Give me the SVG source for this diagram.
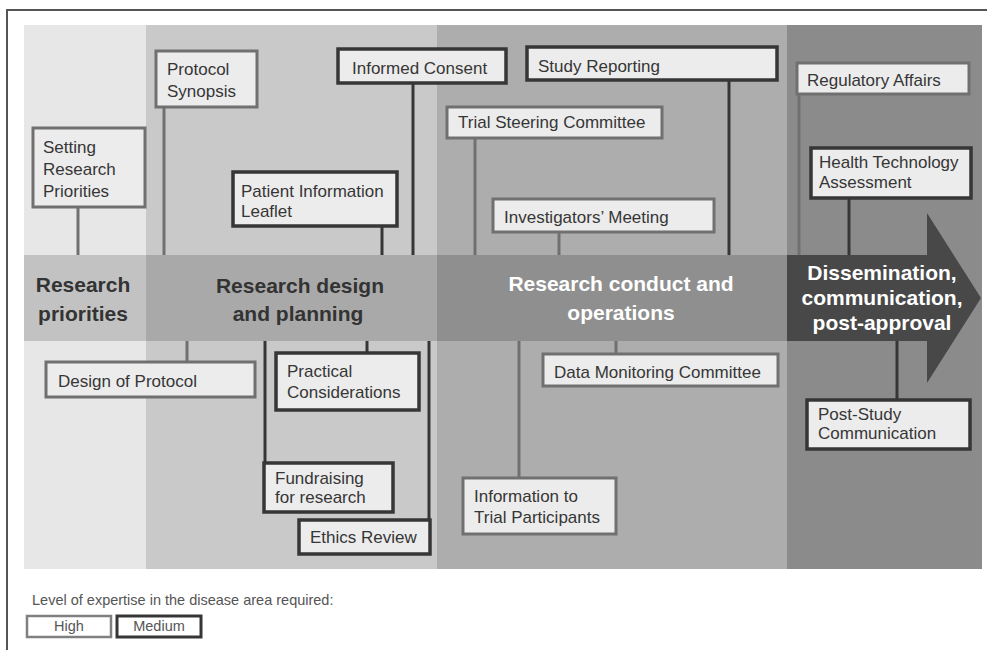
<svg xmlns="http://www.w3.org/2000/svg" width="987" height="650" viewBox="0 0 987 650">
<style>
.t{font-family:"Liberation Sans",Arial,sans-serif;font-size:17px;fill:#363636}
.b{font-family:"Liberation Sans",Arial,sans-serif;font-size:21px;font-weight:bold;text-anchor:middle}
.hi{fill:#ececec;stroke:#707070;stroke-width:3}
.md{fill:#ececec;stroke:#363636;stroke-width:3.5}
.lh{stroke:#707070;stroke-width:3;fill:none}
.lm{stroke:#363636;stroke-width:3;fill:none}
.lg{font-family:"Liberation Sans",Arial,sans-serif;font-size:14.5px;fill:#555}
</style>
<rect x="0" y="0" width="987" height="650" fill="#fff"/>
<path d="M7 650V10H987" fill="none" stroke="#555" stroke-width="2"/>
<g id="backgrounds">
<rect x="24" y="25" width="122" height="544" fill="#e7e7e7"/>
<rect x="146" y="25" width="291" height="544" fill="#c9c9c9"/>
<rect x="437" y="25" width="350" height="544" fill="#adadad"/>
<rect x="787" y="25" width="195" height="544" fill="#8b8b8b"/>
</g>
<g id="connectors">
<line class="lh" x1="78" y1="207" x2="78" y2="255"/>
<line class="lh" x1="164" y1="107" x2="164" y2="255"/>
<line class="lm" x1="382" y1="226" x2="382" y2="255"/>
<line class="lm" x1="413" y1="83" x2="413" y2="255"/>
<line class="lm" x1="729" y1="80" x2="729" y2="255"/>
<line class="lh" x1="475" y1="138" x2="475" y2="255"/>
<line class="lh" x1="559" y1="232" x2="559" y2="255"/>
<line class="lh" x1="799" y1="94" x2="799" y2="255"/>
<line class="lm" x1="849" y1="198" x2="849" y2="255"/>
<line class="lh" x1="187" y1="341" x2="187" y2="362"/>
<line class="lm" x1="367" y1="341" x2="367" y2="353"/>
<line class="lm" x1="265" y1="341" x2="265" y2="463"/>
<line class="lm" x1="429" y1="341" x2="429" y2="520"/>
<line class="lh" x1="519" y1="341" x2="519" y2="478"/>
<line class="lh" x1="616" y1="341" x2="616" y2="354"/>
<line class="lm" x1="897" y1="341" x2="897" y2="400"/>
</g>
<g id="band">
<rect x="24" y="255" width="122" height="86" fill="#c2c2c2"/>
<rect x="146" y="255" width="291" height="86" fill="#a9a9a9"/>
<rect x="437" y="255" width="350" height="86" fill="#8f8f8f"/>
<polygon points="787,255 927,255 927,213 981,298 927,383 927,341 787,341" fill="#484848"/>
</g>
<g id="phase-priorities"><text class="b" fill="#333"><tspan x="83" y="292">Research</tspan><tspan x="83" y="321">priorities</tspan></text></g>
<g id="phase-design"><text class="b" fill="#333"><tspan x="300" y="293">Research design</tspan><tspan x="298" y="321">and planning</tspan></text></g>
<g id="phase-conduct"><text class="b" fill="#fff"><tspan x="621" y="291">Research conduct and</tspan><tspan x="621" y="320">operations</tspan></text></g>
<g id="phase-dissemination"><text class="b" fill="#fff"><tspan x="882" y="280">Dissemination,</tspan><tspan x="882" y="305">communication,</tspan><tspan x="882" y="330">post-approval</tspan></text></g>

<g id="setting-research-priorities"><rect class="hi" x="33" y="128" width="112" height="79"/><text class="t"><tspan x="43" y="153">Setting</tspan><tspan x="43" y="175">Research</tspan><tspan x="43" y="197">Priorities</tspan></text></g>
<g id="protocol-synopsis"><rect class="hi" x="156" y="51" width="101" height="56"/><text class="t"><tspan x="167" y="75">Protocol</tspan><tspan x="167" y="97">Synopsis</tspan></text></g>
<g id="patient-information-leaflet"><rect class="md" x="233" y="172" width="164" height="54"/><text class="t"><tspan x="241" y="197">Patient Information</tspan><tspan x="241" y="217">Leaflet</tspan></text></g>
<g id="informed-consent"><rect class="md" x="338" y="49" width="168" height="34"/><text class="t" x="352" y="74">Informed Consent</text></g>
<g id="study-reporting"><rect class="md" x="527" y="47" width="250" height="33"/><text class="t" x="538" y="72">Study Reporting</text></g>
<g id="trial-steering-committee"><rect class="hi" x="447" y="107" width="215" height="31"/><text class="t" x="458" y="128">Trial Steering Committee</text></g>
<g id="investigators-meeting"><rect class="hi" x="493" y="199" width="221" height="33"/><text class="t" x="504" y="223">Investigators’ Meeting</text></g>
<g id="regulatory-affairs"><rect class="hi" x="797" y="63" width="172" height="31"/><text class="t" x="807" y="86">Regulatory Affairs</text></g>
<g id="health-technology-assessment"><rect class="md" x="811" y="148" width="160" height="50"/><text class="t"><tspan x="819" y="168">Health Technology</tspan><tspan x="819" y="188">Assessment</tspan></text></g>
<g id="design-of-protocol"><rect class="hi" x="46" y="362" width="209" height="35"/><text class="t" x="58" y="387">Design of Protocol</text></g>
<g id="practical-considerations"><rect class="md" x="276" y="353" width="143" height="57"/><text class="t"><tspan x="287" y="377">Practical</tspan><tspan x="287" y="398">Considerations</tspan></text></g>
<g id="fundraising-for-research"><rect class="md" x="264" y="463" width="129" height="49"/><text class="t"><tspan x="275" y="484">Fundraising</tspan><tspan x="275" y="503">for research</tspan></text></g>
<g id="ethics-review"><rect class="md" x="299" y="520" width="131" height="34"/><text class="t" x="310" y="543">Ethics Review</text></g>
<g id="information-to-trial-participants"><rect class="hi" x="463" y="478" width="153" height="56"/><text class="t"><tspan x="474" y="502">Information to</tspan><tspan x="474" y="523">Trial Participants</tspan></text></g>
<g id="data-monitoring-committee"><rect class="hi" x="543" y="354" width="235" height="32"/><text class="t" x="554" y="378">Data Monitoring Committee</text></g>
<g id="post-study-communication"><rect class="md" x="807" y="400" width="163" height="49"/><text class="t"><tspan x="818" y="420">Post-Study</tspan><tspan x="818" y="439">Communication</tspan></text></g>

<g id="legend">
<text class="lg" x="32" y="605">Level of expertise in the disease area required:</text>
<rect x="27" y="616" width="84" height="21" fill="#fff" stroke="#808080" stroke-width="2.5"/>
<text class="lg" x="69" y="631" text-anchor="middle">High</text>
<rect x="117" y="616" width="84" height="21" fill="#fff" stroke="#363636" stroke-width="3"/>
<text class="lg" x="159" y="631" text-anchor="middle">Medium</text>
</g>
</svg>
